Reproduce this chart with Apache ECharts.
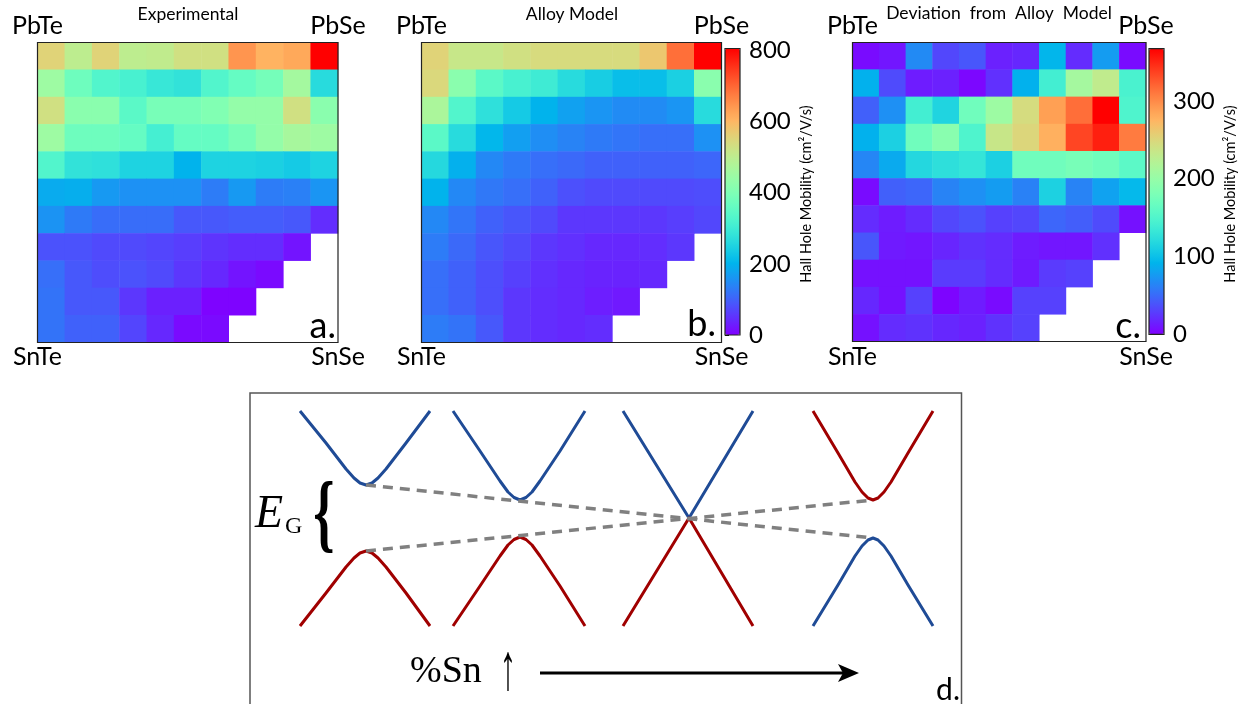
<!DOCTYPE html>
<html>
<head>
<meta charset="utf-8">
<script src="https://cdn.jsdelivr.net/npm/echarts@6/dist/echarts.min.js"></script>
<style>
  html, body { margin: 0; padding: 0; background: #fff; }
  #main { width: 1246px; height: 704px; }
</style>
</head>
<body>
<div id="main"></div>
<script>
// composition grid: Se fraction across (PbTe -> PbSe), Sn fraction down (PbTe -> SnTe)
var seFrac = ['0', '10', '20', '30', '40', '50', '60', '70', '80', '90', '100'];
var snFrac = ['0', '10', '20', '30', '40', '50', '60', '70', '80', '90', '100'];

// hall hole mobility, cm2/V/s (rows top -> bottom), null = no sample
var expMobility = [
  [555, 500, 555, 500, 505, 530, 530, 645, 605, 620, 805],
  [450, 375, 330, 315, 290, 280, 330, 360, 385, 460, 265],
  [530, 420, 420, 345, 390, 390, 405, 435, 435, 530, 420],
  [450, 375, 375, 360, 310, 360, 360, 390, 435, 465, 450],
  [330, 280, 275, 250, 250, 200, 250, 250, 245, 235, 250],
  [188, 192, 165, 155, 155, 155, 130, 165, 130, 135, 160],
  [158, 128, 113, 113, 113, 90, 90, 95, 95, 90, 45],
  [84, 84, 75, 75, 70, 62, 52, 45, 45, 20, null],
  [115, 90, 78, 84, 75, 55, 40, 20, 10, null, null],
  [120, 90, 90, 55, 32, 32, 3, 3, null, null, null],
  [120, 100, 100, 70, 40, 10, 10, null, null, null, null]
];
var alloyMobility = [
  [555, 515, 515, 530, 540, 540, 540, 540, 575, 690, 805],
  [545, 420, 345, 315, 300, 265, 240, 215, 215, 245, 420],
  [470, 330, 275, 235, 200, 175, 160, 148, 148, 160, 265],
  [345, 265, 205, 172, 152, 138, 128, 122, 115, 115, 155],
  [260, 195, 145, 128, 115, 108, 100, 100, 100, 100, 105],
  [200, 145, 125, 115, 100, 82, 75, 75, 75, 75, 78],
  [145, 122, 100, 88, 75, 55, 55, 55, 55, 62, 72],
  [130, 108, 88, 75, 55, 48, 40, 40, 45, 55, null],
  [115, 100, 80, 65, 48, 40, 35, 35, 40, null, null],
  [115, 100, 80, 55, 45, 40, 30, 25, null, null, null],
  [130, 120, 90, 55, 45, 40, 45, null, null, null, null]
];
var deviation = [
  [5, 10, 67, 33, 40, 15, 18, 93, 20, 77, 5],
  [90, 35, 13, 15, 3, 22, 90, 140, 210, 230, 145],
  [45, 70, 140, 115, 172, 205, 245, 288, 315, 367, 148],
  [90, 112, 172, 190, 148, 235, 250, 278, 335, 353, 308],
  [65, 85, 118, 125, 130, 112, 172, 172, 178, 172, 158],
  [5, 45, 48, 63, 70, 77, 62, 113, 63, 80, 95],
  [20, 13, 20, 33, 38, 30, 33, 48, 44, 35, 8],
  [40, 12, 10, 17, 23, 20, 13, 10, 10, 22, null],
  [8, 8, 8, 27, 27, 20, 12, 27, 30, null, null],
  [18, 8, 30, 2, 13, 5, 30, 30, null, null, null],
  [8, 20, 23, 18, 15, 23, 30, null, null, null, null]
];
var mobilityMax = 805;
var deviationMax = 367;
var mobilityTicks = [0, 200, 400, 600, 800];
var deviationTicks = [0, 100, 200, 300];

// panel d schematic: [k, E] points (E = 0 at the crossing)
var cb1 = [[50, 107], [76, 75], [96, 49], [104, 40], [110, 35], [116, 33], [122, 35], [128, 40], [136, 49], [156, 75], [180, 107]];
var vb1 = [[50, -108], [76, -75], [96, -49], [104, -40], [110, -35], [116, -33], [122, -35], [128, -40], [136, -49], [156, -75], [180, -108]];
var cb2 = [[203, 107], [230, 67], [250, 37], [258, 26], [264, 20.5], [270, 18], [276, 20.5], [282, 26], [290, 37], [310, 67], [335, 107]];
var vb2 = [[203, -108], [230, -68], [250, -38], [258, -27], [264, -21.5], [270, -19], [276, -21.5], [282, -27], [290, -38], [310, -68], [335, -108]];
var cb3 = [[373, 107], [439, 0], [503, 107]];
var vb3 = [[373, -108], [439, 0], [503, -108]];
var cb4 = [[563, 107], [588, 65], [605, 36], [612, 26], [618, 20], [623, 18], [628, 20], [634, 26], [641, 36], [658, 65], [683, 107]];
var vb4 = [[563, -108], [588, -67], [605, -38], [612, -28], [618, -22], [623, -20], [628, -22], [634, -28], [641, -38], [658, -67], [683, -108]];
var gapTrend1 = [[116, 33], [623, -20]];
var gapTrend2 = [[116, -33], [623, 18]];

var BLUE = '#1f4b96';
var RED = '#a00000';
var FONT = 'Lato, "Noto Sans", sans-serif';
var SERIF = '"Liberation Serif", "DejaVu Serif", serif';

// matplotlib 'rainbow' colormap stops
function rainbow(t) {
  var r = Math.min(1, Math.abs(2 * t - 0.5));
  var g = Math.sin(Math.PI * t);
  var b = Math.cos(Math.PI * t / 2);
  return 'rgb(' + Math.round(r * 255) + ',' + Math.round(g * 255) + ',' + Math.round(b * 255) + ')';
}
var rainbowStops = [];
for (var i = 0; i <= 40; i++) rainbowStops.push(rainbow(i / 40));

function toCells(rows) {
  var out = [];
  rows.forEach(function (row, r) {
    row.forEach(function (v, c) {
      if (v != null) out.push([c, r, v]);
    });
  });
  return out;
}

var panels = [
  { left: 37.5, top: 42.5, width: 300.5, height: 300 },
  { left: 421.5, top: 42.5, width: 300, height: 300 },
  { left: 852.5, top: 42.5, width: 293.5, height: 299 }
];
var bars = [
  { left: 725, top: 48.5, width: 15, height: 286.5 },
  { left: 1149, top: 48.7, width: 15, height: 285.6 }
];
var boxD = { left: 250, top: 393, width: 711.5, height: 311 };

var grids = [], xAxes = [], yAxes = [], series = [];
panels.forEach(function (p, i) {
  grids.push({ left: p.left, top: p.top, width: p.width, height: p.height });
  xAxes.push({ type: 'category', gridIndex: i, data: seFrac, show: false });
  yAxes.push({ type: 'category', gridIndex: i, data: snFrac, inverse: true, show: false });
});
[expMobility, alloyMobility, deviation].forEach(function (d, i) {
  series.push({
    type: 'heatmap', xAxisIndex: i, yAxisIndex: i, data: toCells(d),
    itemStyle: { borderWidth: 0 }, emphasis: { disabled: true }, silent: true
  });
});

// colorbar tick axes
[[mobilityMax, mobilityTicks], [deviationMax, deviationTicks]].forEach(function (cfg, j) {
  var b = bars[j];
  var gi = 3 + j;
  grids.push({ left: b.left, top: b.top, width: b.width, height: b.height });
  xAxes.push({ type: 'value', gridIndex: gi, show: false, min: 0, max: 1 });
  yAxes.push({
    type: 'value', gridIndex: gi, position: 'right', min: 0, max: cfg[0],
    axisLine: { show: false },
    axisTick: { show: true, length: 4, inside: false, customValues: cfg[1], lineStyle: { color: '#000', width: 1 } },
    axisLabel: { customValues: cfg[1], margin: 9, fontSize: 24, color: '#000', fontFamily: FONT },
    splitLine: { show: false }
  });
  series.push({ type: 'line', xAxisIndex: gi, yAxisIndex: gi, data: [], silent: true });
});

// panel d (box runs off the bottom of the figure)
grids.push({ left: boxD.left, top: boxD.top, width: boxD.width, bottom: 0 });
xAxes.push({ type: 'value', gridIndex: 5, min: 0, max: 711.5, show: false });
yAxes.push({ type: 'value', gridIndex: 5, min: -186, max: 125, show: false });
[[cb1, BLUE], [vb1, RED], [cb2, BLUE], [vb2, RED], [cb3, BLUE], [vb3, RED], [cb4, RED], [vb4, BLUE]].forEach(function (b) {
  series.push({
    type: 'line', xAxisIndex: 5, yAxisIndex: 5, data: b[0], smooth: false, symbol: 'none',
    lineStyle: { color: b[1], width: 3, join: 'round' }, silent: true
  });
});
[gapTrend1, gapTrend2].forEach(function (g) {
  series.push({
    type: 'line', xAxisIndex: 5, yAxisIndex: 5, data: g, symbol: 'none', z: 3,
    lineStyle: { color: '#808080', width: 3.5, type: [10, 7] }, silent: true
  });
});

function txt(x, y, s, size, opts) {
  opts = opts || {};
  return {
    type: 'text', x: x, y: y, z: 20, rotation: opts.rotation || 0,
    scaleX: opts.sx || 1, scaleY: opts.sy || 1, silent: true,
    style: {
      text: s, fontSize: size, fontFamily: opts.family || FONT, fontStyle: opts.style || 'normal',
      fontWeight: opts.weight || 'normal', fill: '#000',
      textAlign: opts.align || 'center', textVerticalAlign: opts.valign || 'middle'
    }
  };
}
function frame(r, color, lw) {
  return { type: 'rect', z: 15, silent: true, shape: { x: r.left, y: r.top, width: r.width, height: r.height },
    style: { fill: 'none', stroke: color || '#222', lineWidth: lw || 1.2 } };
}

var graphics = [];
panels.forEach(function (p) {
  graphics.push(frame(p));
  var l = p.left, r = p.left + p.width;
  graphics.push(txt(l, 26, 'PbTe', 25));
  graphics.push(txt(r, 26, 'PbSe', 25));
  graphics.push(txt(l, 357, 'SnTe', 25));
  graphics.push(txt(r, 357, 'SnSe', 25));
});
bars.forEach(function (b) { graphics.push(frame(b)); });
graphics.push(frame({ left: boxD.left, top: boxD.top, width: boxD.width, height: boxD.height + 20 }, '#555', 1.5));
graphics.push(txt(188, 14, 'Experimental', 17.5));
graphics.push(txt(572, 14, 'Alloy Model', 17.5));
graphics.push(txt(999, 13, 'Deviation  from  Alloy  Model', 17.5));
graphics.push(txt(336, 326, 'a.', 36, { align: 'right' }));
graphics.push(txt(716, 324, 'b.', 36, { align: 'right' }));
graphics.push(txt(1141, 326, 'c.', 36, { align: 'right' }));
graphics.push(txt(806, 194, 'Hall Hole Mobility (cm²/V/s)', 14.5, { rotation: Math.PI / 2 }));
graphics.push(txt(1230, 194, 'Hall Hole Mobility (cm²/V/s)', 14.5, { rotation: Math.PI / 2 }));
// panel d annotations
graphics.push(txt(255, 515, 'E', 46, { family: SERIF, style: 'italic', align: 'left' }));
graphics.push(txt(285, 527, 'G', 24, { family: SERIF, align: 'left' }));
graphics.push(txt(324, 519, '{', 54, { family: SERIF, weight: 'bold', sy: 1.6 }));
graphics.push(txt(410, 672, '%Sn', 38, { family: SERIF, align: 'left' }));
graphics.push(txt(508, 672, '\u2191', 44, { family: SERIF, sx: 0.75, sy: 1.5 }));
graphics.push({ type: 'line', z: 20, silent: true, shape: { x1: 540, y1: 673, x2: 845, y2: 673 }, style: { stroke: '#000', lineWidth: 3 } });
graphics.push({ type: 'polygon', z: 20, silent: true, shape: { points: [[859, 673], [838, 664], [843, 673], [838, 682]] }, style: { fill: '#000' } });
graphics.push(txt(960, 690, 'd.', 30, { align: 'right' }));

var chart = echarts.init(document.getElementById('main'));
chart.setOption({
  animation: false,
  backgroundColor: '#ffffff',
  grid: grids,
  xAxis: xAxes,
  yAxis: yAxes,
  visualMap: [
    { type: 'continuous', seriesIndex: 0, min: 0, max: mobilityMax, show: false, inRange: { color: rainbowStops } },
    { type: 'continuous', seriesIndex: 1, min: 0, max: mobilityMax, calculable: false, padding: 0,
      left: bars[0].left, top: bars[0].top, itemWidth: bars[0].width, itemHeight: bars[0].height,
      inRange: { color: rainbowStops } },
    { type: 'continuous', seriesIndex: 2, min: 0, max: deviationMax, calculable: false, padding: 0,
      left: bars[1].left, top: bars[1].top, itemWidth: bars[1].width, itemHeight: bars[1].height,
      inRange: { color: rainbowStops } }
  ],
  series: series,
  graphic: graphics
});
</script>
</body>
</html>
